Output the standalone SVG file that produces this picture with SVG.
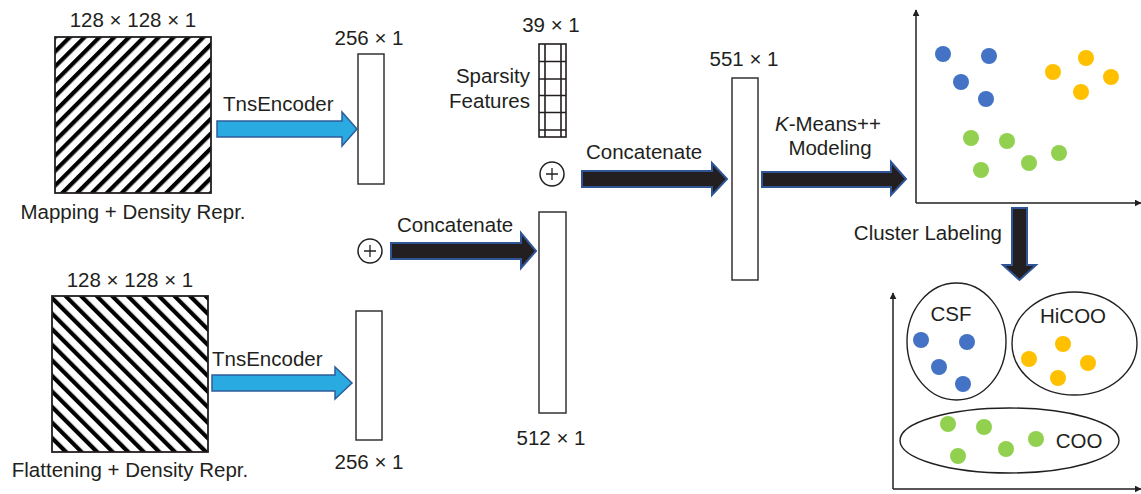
<svg xmlns="http://www.w3.org/2000/svg" width="1141" height="494" viewBox="0 0 1141 494">
  <defs>
    <style>
      text { font-family: "Liberation Sans", Arial, sans-serif; font-size: 20.5px; fill: #231f20; }
      .mid { text-anchor: middle; }
      .end { text-anchor: end; }
      .vec { fill: #ffffff; stroke: #333333; stroke-width: 1.5; }
      .frame { fill: none; stroke: #231f20; stroke-width: 1.8; }
      .enc { fill: #29abe2; stroke: #2e5c9a; stroke-width: 1.5; }
      .dark { fill: #231f20; stroke: #2f5597; stroke-width: 2; }
      .axis { stroke: #231f20; stroke-width: 1.5; fill: none; }
      .ring { fill: #fff; stroke: #231f20; stroke-width: 1.5; }
      .cross { stroke: #231f20; stroke-width: 1.3; fill: none; }
      .grp { fill: none; stroke: #231f20; stroke-width: 1.4; }
      .b { fill: #4472c4; }
      .o { fill: #ffc000; }
      .g { fill: #92d050; }
    </style>
    <pattern id="stripesUp" patternUnits="userSpaceOnUse" width="10.5" height="20" patternTransform="rotate(45)">
      <rect x="0" y="0" width="4.2" height="20" fill="#000"/>
    </pattern>
    <pattern id="stripesDown" patternUnits="userSpaceOnUse" width="11" height="20" patternTransform="rotate(-45)">
      <rect x="0" y="0" width="4.2" height="20" fill="#000"/>
    </pattern>
    <marker id="axisHead" viewBox="0 0 10 10" refX="9" refY="5" markerWidth="7" markerHeight="7" orient="auto" markerUnits="userSpaceOnUse">
      <path d="M0,0 L10,5 L0,10 Z" fill="#231f20"/>
    </marker>
  </defs>

  <!-- input representation: mapping + density -->
  <g id="mapping-input">
    <text class="mid" x="133" y="27">128 × 128 × 1</text>
    <rect x="55" y="37" width="156" height="156" fill="#fff"/>
    <rect x="55" y="37" width="156" height="156" fill="url(#stripesUp)"/>
    <rect class="frame" x="55" y="37" width="156" height="156"/>
    <text class="mid" x="133" y="219">Mapping + Density Repr.</text>
  </g>

  <!-- input representation: flattening + density -->
  <g id="flattening-input">
    <text class="mid" x="130" y="287">128 × 128 × 1</text>
    <rect x="52" y="296" width="156" height="156" fill="#fff"/>
    <rect x="52" y="296" width="156" height="156" fill="url(#stripesDown)"/>
    <rect class="frame" x="52" y="296" width="156" height="156"/>
    <text class="mid" x="130" y="477">Flattening + Density Repr.</text>
  </g>

  <!-- encoded vectors -->
  <g id="embedding-top">
    <text class="mid" x="369" y="45">256 × 1</text>
    <rect class="vec" x="358" y="54" width="26" height="130"/>
  </g>
  <g id="embedding-bottom">
    <rect class="vec" x="356" y="311" width="26" height="129"/>
    <text class="mid" x="369" y="469">256 × 1</text>
  </g>

  <g id="sparsity-features">
    <text class="mid" x="551" y="32">39 × 1</text>
    <text class="end" x="530" y="83">Sparsity</text>
    <text class="end" x="530" y="108">Features</text>
    <rect x="539" y="44" width="27" height="93" fill="#fff" stroke="#231f20" stroke-width="1.6"/>
    <path d="M545,44 V137 M561,44 V137 M539,61.5 H566 M539,79 H566 M539,95.5 H566 M539,112.5 H566 M539,130 H566" stroke="#231f20" stroke-width="1.6" fill="none"/>
  </g>

  <g id="concat-op-top">
    <circle class="ring" cx="552" cy="174" r="12"/>
    <path class="cross" d="M546,174 H558 M552,168 V180"/>
  </g>
  <g id="concat-op-bottom">
    <circle class="ring" cx="370" cy="251" r="12"/>
    <path class="cross" d="M364,251 H376 M370,245 V257"/>
  </g>

  <g id="embedding-joint">
    <rect class="vec" x="539" y="212" width="27" height="201"/>
    <text class="mid" x="551" y="445">512 × 1</text>
  </g>

  <g id="embedding-final">
    <text class="mid" x="744" y="66">551 × 1</text>
    <rect class="vec" x="732" y="78" width="26" height="202"/>
  </g>

  <!-- clustered feature space -->
  <g id="scatter-kmeans">
    <line class="axis" x1="916" y1="203" x2="916" y2="10" marker-end="url(#axisHead)"/>
    <line class="axis" x1="916" y1="203" x2="1141" y2="203" marker-end="url(#axisHead)"/>
    <circle class="b" cx="943" cy="54" r="8"/>
    <circle class="b" cx="989" cy="56" r="8"/>
    <circle class="b" cx="961" cy="82" r="8"/>
    <circle class="b" cx="986" cy="99" r="8"/>
    <circle class="o" cx="1053" cy="72" r="8"/>
    <circle class="o" cx="1086" cy="58" r="8"/>
    <circle class="o" cx="1111" cy="77" r="8"/>
    <circle class="o" cx="1081" cy="92" r="8"/>
    <circle class="g" cx="971" cy="138" r="8"/>
    <circle class="g" cx="1007" cy="141" r="8"/>
    <circle class="g" cx="1059" cy="153" r="8"/>
    <circle class="g" cx="1029" cy="163" r="8"/>
    <circle class="g" cx="981" cy="170" r="8"/>
  </g>

  <!-- labelled formats -->
  <g id="scatter-labeled">
    <line class="axis" x1="893" y1="489" x2="893" y2="293" marker-end="url(#axisHead)"/>
    <line class="axis" x1="893" y1="489" x2="1141" y2="489" marker-end="url(#axisHead)"/>
    <ellipse class="grp" cx="956.5" cy="341.5" rx="49.5" ry="58.5"/>
    <ellipse class="grp" cx="1074.5" cy="343.5" rx="62.5" ry="51.5"/>
    <ellipse class="grp" cx="1009.5" cy="440.5" rx="109.5" ry="32.5"/>
    <text class="mid" x="951" y="321">CSF</text>
    <text class="mid" x="1073" y="323">HiCOO</text>
    <text class="mid" x="1079" y="448">COO</text>
    <circle class="b" cx="921" cy="340" r="8"/>
    <circle class="b" cx="967" cy="342" r="8"/>
    <circle class="b" cx="939" cy="367" r="8"/>
    <circle class="b" cx="963" cy="384" r="8"/>
    <circle class="o" cx="1063" cy="344" r="8"/>
    <circle class="o" cx="1029" cy="359" r="8"/>
    <circle class="o" cx="1088" cy="363" r="8"/>
    <circle class="o" cx="1058" cy="378" r="8"/>
    <circle class="g" cx="948" cy="424" r="8"/>
    <circle class="g" cx="984" cy="427" r="8"/>
    <circle class="g" cx="1036" cy="439" r="8"/>
    <circle class="g" cx="1006" cy="449" r="8"/>
    <circle class="g" cx="958" cy="456" r="8"/>
  </g>

  <!-- connectors -->
  <g id="connectors">
    <polygon class="enc" points="217,121 342,121 342,112 357,129 342,146 342,137 217,137"/>
    <text x="223" y="111">TnsEncoder</text>

    <polygon class="enc" points="212,375 335,375 335,367 352,383 335,399 335,391 212,391"/>
    <text x="212" y="366">TnsEncoder</text>

    <polygon class="dark" points="391,243 521,243 521,233 536,251 521,268 521,259 391,259"/>
    <text x="397" y="232">Concatenate</text>

    <polygon class="dark" points="582,171 712,171 712,163 727,179 712,195 712,187 582,187"/>
    <text x="586" y="159">Concatenate</text>

    <polygon class="dark" points="762,172 891,172 891,162 906,179 891,195 891,187 762,187"/>
    <text class="mid" x="828" y="131"><tspan font-style="italic">K</tspan>-Means++</text>
    <text class="mid" x="830" y="155">Modeling</text>

    <polygon class="dark" points="1012,208 1027,208 1027,265 1036,265 1019.5,280 1003,265 1012,265"/>
    <text class="end" x="1002" y="240">Cluster Labeling</text>
  </g>
</svg>
